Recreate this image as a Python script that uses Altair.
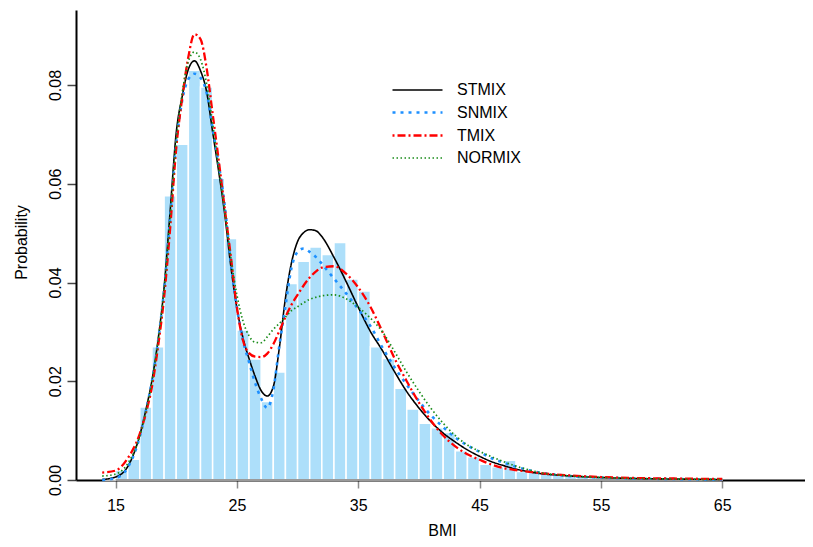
import altair as alt
import pandas as pd

# ---------------- data ----------------
bin_left = list(range(14, 65))
bin_height = [0.0003, 0.0020, 0.0042, 0.0148, 0.0270, 0.0576, 0.0680, 0.0830, 0.0796, 0.0611,
              0.0489, 0.0304, 0.0245, 0.0159, 0.0219, 0.0398, 0.0443, 0.0472, 0.0457, 0.0481,
              0.0407, 0.0383, 0.0270, 0.0246, 0.0186, 0.0144, 0.0115, 0.0106, 0.0096, 0.0059,
              0.0047, 0.0032, 0.0027, 0.0040, 0.0017, 0.0017, 0.0013, 0.0012, 0.0011, 0.0008,
              0.0006, 0.0004, 0.0003, 0.0002, 0.0002, 0.0002, 0.0001, 0.0001, 0.0001, 0.0001,
              0.0001]

curve_x = [13.9, 15, 16, 17, 17.5, 18, 18.5, 19, 19.5, 20, 20.5, 21, 21.5, 22, 22.5, 23, 23.5,
           24, 24.5, 25, 25.5, 26, 26.5, 27, 27.5, 28, 28.5, 29, 29.5, 30, 30.5, 31, 31.5, 32,
           33, 34, 35, 36, 37, 38, 39, 40, 41, 42, 43, 44, 45, 46, 47, 48, 49, 50,
           52, 55, 58, 61, 65]

stmix = [0.0001, 0.0006, 0.0027, 0.0091, 0.0142, 0.0202, 0.0283, 0.0390, 0.0545, 0.0703,
         0.0778, 0.0832, 0.0849, 0.0829, 0.0787, 0.0705, 0.0625, 0.0538, 0.0433, 0.0348,
         0.0288, 0.0246, 0.0210, 0.0181, 0.0170, 0.0189, 0.0268, 0.0368, 0.0440, 0.0483,
         0.0501, 0.0507, 0.0505, 0.0493, 0.0451, 0.0402, 0.0350, 0.0301, 0.0262, 0.0219,
         0.0179, 0.0146, 0.0118, 0.0095, 0.0077, 0.0061, 0.0048, 0.0037, 0.0029, 0.0022,
         0.0017, 0.0013, 0.0009, 0.0005, 0.0003, 0.0002, 0.0001]

snmix = [0.0000, 0.0004, 0.0025, 0.0088, 0.0140, 0.0200, 0.0280, 0.0385, 0.0530, 0.0680,
         0.0770, 0.0812, 0.0823, 0.0815, 0.0785, 0.0712, 0.0640, 0.0555, 0.0440, 0.0350,
         0.0283, 0.0239, 0.0197, 0.0165, 0.0146, 0.0182, 0.0272, 0.0352, 0.0430, 0.0462,
         0.0469, 0.0462, 0.0452, 0.0438, 0.0408, 0.0378, 0.0346, 0.0312, 0.0268, 0.0228,
         0.0193, 0.0160, 0.0131, 0.0107, 0.0086, 0.0070, 0.0057, 0.0044, 0.0035, 0.0027,
         0.0020, 0.0015, 0.0009, 0.0005, 0.0003, 0.0002, 0.0001]

tmix = [0.0015, 0.0019, 0.0044, 0.0094, 0.0135, 0.0189, 0.0270, 0.0370, 0.0510, 0.0672,
        0.0775, 0.0857, 0.0903, 0.0893, 0.0835, 0.0742, 0.0648, 0.0550, 0.0453, 0.0350,
        0.0283, 0.0257, 0.0250, 0.0249, 0.0256, 0.0275, 0.0302, 0.0330, 0.0355, 0.0375,
        0.0394, 0.0410, 0.0422, 0.0430, 0.0433, 0.0418, 0.0390, 0.0351, 0.0300, 0.0246,
        0.0200, 0.0157, 0.0120, 0.0090, 0.0068, 0.0052, 0.0041, 0.0031, 0.0024, 0.0020,
        0.0017, 0.0014, 0.0010, 0.0006, 0.0004, 0.0003, 0.0002]

normix = [0.0008, 0.0012, 0.0033, 0.0090, 0.0138, 0.0198, 0.0280, 0.0385, 0.0530, 0.0685,
          0.0785, 0.0848, 0.0867, 0.0852, 0.0803, 0.0722, 0.0632, 0.0545, 0.0450, 0.0375,
          0.0322, 0.0292, 0.0279, 0.0278, 0.0290, 0.0305, 0.0317, 0.0330, 0.0343, 0.0351,
          0.0359, 0.0366, 0.0370, 0.0373, 0.0375, 0.0367, 0.0350, 0.0328, 0.0300, 0.0260,
          0.0218, 0.0180, 0.0145, 0.0115, 0.0090, 0.0071, 0.0058, 0.0047, 0.0037, 0.0028,
          0.0021, 0.0015, 0.0009, 0.0005, 0.0003, 0.0002, 0.0001]

models = ["STMIX", "SNMIX", "TMIX", "NORMIX"]
model_colors = ["#000000", "#1E90FF", "#FF0000", "#1A8C1A"]
model_dashes = [[1, 0], [3, 5], [2, 3, 8, 3], [1.5, 2.5]]
model_widths = [1.6, 2.6, 2.3, 1.7]

x_ticks = [15, 25, 35, 45, 55, 65]
y_ticks = [0.0, 0.02, 0.04, 0.06, 0.08]
x_domain = [11.74, 71.82]
y_domain = [0, 0.0952]

FONT = "Liberation Sans"

# ---------------- tables ----------------
hist = pd.DataFrame({"lo": bin_left,
                     "hi": [b + 1 for b in bin_left],
                     "h": bin_height})

rows = []
for name, vals in zip(models, [stmix, snmix, tmix, normix]):
    for xv, yv in zip(curve_x, vals):
        rows.append({"BMI": xv, "dens": yv, "model": name})
curves = pd.DataFrame(rows)

base_rule = pd.DataFrame({"a": [min(x_ticks)], "b": [max(x_ticks)], "y": [0.0]})

xscale = alt.Scale(domain=x_domain, nice=False, zero=False)
yscale = alt.Scale(domain=y_domain, nice=False, zero=False)

x_axis = alt.Axis(values=x_ticks, format="d", grid=False, domainColor="#000000", domainWidth=2,
                  tickColor="#8c8c8c", tickWidth=1.5, tickSize=8, labelFont=FONT, labelFontSize=16,
                  labelColor="#000000", labelPadding=9, labelFlush=False, labelOverlap=False,
                  title="BMI", titleFont=FONT, titleFontSize=16, titleFontWeight="normal",
                  titleColor="#000000", titleBaseline="alphabetic", titleY=55, titleX=366,
                  titleAlign="center")

y_axis = alt.Axis(values=y_ticks, format=".2f", grid=False, domainColor="#000000", domainWidth=2,
                  tickColor="#444444", tickWidth=1.5, tickSize=9, labelFont=FONT, labelFontSize=16,
                  labelColor="#000000", labelAngle=270, labelAlign="center",
                  labelBaseline="alphabetic", labelPadding=7, labelOverlap=False, labelFlush=False,
                  title="Probability", titleFont=FONT, titleFontSize=16, titleFontWeight="normal",
                  titleColor="#000000", titleAngle=270, titleAlign="center",
                  titleBaseline="alphabetic", titleX=-50, titleY=232)

bars = alt.Chart(hist).mark_rect(fill="#ADDFFA", stroke="#FFFFFF", strokeWidth=1.5).encode(
    x=alt.X("lo:Q", scale=xscale, axis=x_axis),
    x2="hi:Q",
    y=alt.Y("h:Q", scale=yscale, axis=y_axis),
    y2=alt.datum(0),
)

grey_base = alt.Chart(base_rule).mark_rule(color="#9a9a9a", strokeWidth=2).encode(
    x=alt.X("a:Q", scale=xscale), x2="b:Q", y=alt.Y("y:Q", scale=yscale))

legend = alt.Legend(title=None, orient="none", legendX=330, legendY=69,
                    symbolType="M-2.5,0H2.5", symbolSize=400,
                    labelFont=FONT, labelFontSize=16, labelColor="#000000",
                    labelOffset=28, rowPadding=3, padding=0)

lines = alt.Chart(curves).mark_line(interpolate="monotone").encode(
    x=alt.X("BMI:Q", scale=xscale),
    y=alt.Y("dens:Q", scale=yscale),
    color=alt.Color("model:N", scale=alt.Scale(domain=models, range=model_colors), legend=legend),
    strokeDash=alt.StrokeDash("model:N", scale=alt.Scale(domain=models, range=model_dashes),
                              legend=legend),
    strokeWidth=alt.StrokeWidth("model:N", scale=alt.Scale(type="ordinal", domain=models,
                                                          range=model_widths), legend=legend),
)

chart = alt.layer(bars, grey_base, lines).properties(
    width=729, height=470,
    autosize=alt.AutoSizeParams(type="none"),
    padding={"left": 68, "top": 2, "right": 0, "bottom": 59},
    background="white",
).configure_view(stroke=None)

chart.save("out.html", embed_options={"renderer": "svg", "actions": False})
